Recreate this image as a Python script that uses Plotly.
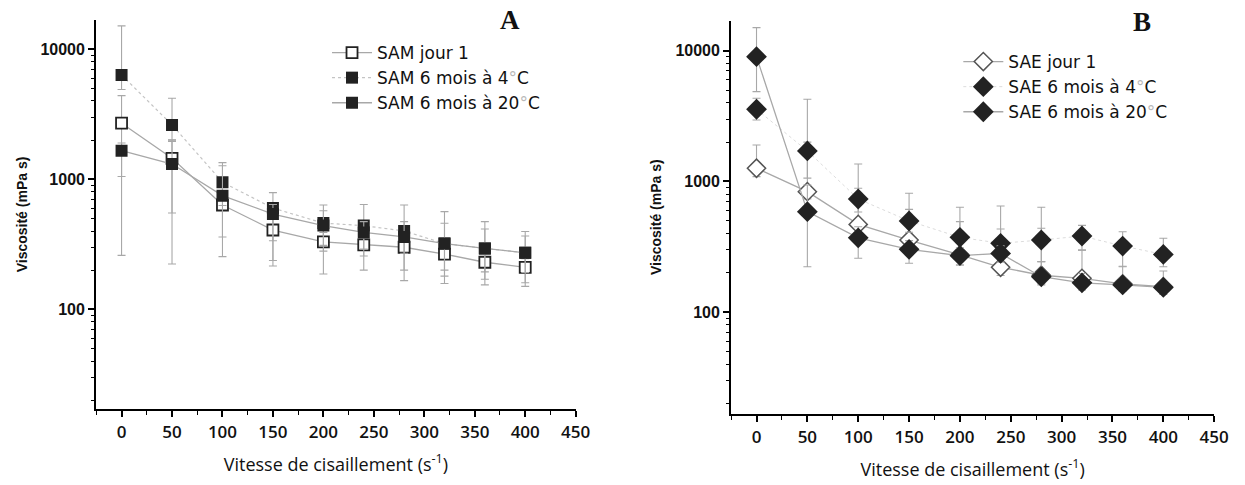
import plotly.graph_objects as go

# ---------------- data ----------------
shear = [0, 50, 100, 150, 200, 240, 280, 320, 360, 400]

# Panel A (SAM)
sam_j1 = [2700, 1450, 634, 407, 330, 313, 300, 266, 230, 210]
sam_j1_plus = [1700, 500, 100, 100, 60, 60, 60, 50, 40, 35]
sam_j1_minus = [1650, 900, 380, 192, 143, 113, 134, 108, 76, 60]

sam_4 = [6340, 2620, 948, 600, 460, 440, 400, 320, 294, 272]
sam_4_plus = [8800, 1580, 395, 190, 174, 200, 234, 244, 178, 124]
sam_4_minus = [1440, 620, 320, 263, 150, 150, 130, 120, 100, 80]

sam_20 = [1660, 1310, 748, 540, 440, 390, 360, 320, 294, 272]
sam_20_plus = [240, 700, 522, 100, 133, 82, 112, 139, 121, 94]
sam_20_minus = [1400, 1087, 388, 303, 160, 133, 160, 140, 124, 112]

# Panel B (SAE)
sae_j1 = [1262, 836, 470, 357, 275, 221, 192, 182, 165, 157]
sae_j1_plus = [640, 3414, 890, 456, 360, 429, 443, 117, 60, 50]
sae_j1_minus = [172, 100, 80, 60, 45, 30, 25, 25, 20, 20]

sae_4 = [3565, 1711, 735, 499, 374, 337, 357, 383, 321, 277]
sae_4_plus = [765, 289, 153, 113, 119, 96, 82, 79, 92, 91]
sae_4_minus = [615, 650, 150, 90, 70, 60, 113, 84, 98, 54]

sae_20 = [9000, 588, 371, 303, 271, 282, 187, 168, 162, 155]
sae_20_plus = [6000, 352, 80, 50, 40, 40, 57, 30, 20, 15]
sae_20_minus = [4140, 365, 112, 66, 41, 40, 25, 20, 15, 12]

y_ticks = [100, 1000, 10000]
y_ticktext = ["100", "1000", "10000"]
deg = "<span style='color:#b8b8b8'>°</span>"

# ---------------- styles ----------------
LINE = "#a8a8a8"
ERR = "#a8a8a8"
DARK = "#222222"
W, H = 1245, 485


def err(plus, minus):
    return dict(type="data", symmetric=False, array=plus, arrayminus=minus,
                color=ERR, thickness=1.1, width=4)


fig = go.Figure()

# Panel A traces
fig.add_trace(go.Scatter(
    x=shear, y=sam_j1, name="SAM jour 1", mode="lines+markers",
    line=dict(color=LINE, width=1.3),
    marker=dict(symbol="square", size=11, color="white", line=dict(color=DARK, width=1.8)),
    error_y=err(sam_j1_plus, sam_j1_minus), xaxis="x", yaxis="y",
    legend="legend", legendgroup="a1"))
fig.add_trace(go.Scatter(
    x=shear, y=sam_4, name="SAM 6 mois à 4" + deg + "C", mode="lines+markers",
    line=dict(color="#c4c4c4", width=1.2, dash="dot"),
    marker=dict(symbol="square", size=12, color=DARK, line=dict(color=DARK, width=0)),
    error_y=err(sam_4_plus, sam_4_minus), xaxis="x", yaxis="y",
    legend="legend", legendgroup="a2"))
fig.add_trace(go.Scatter(
    x=shear, y=sam_20, name="SAM 6 mois à 20" + deg + "C", mode="lines+markers",
    line=dict(color=LINE, width=1.3),
    marker=dict(symbol="square", size=12, color=DARK, line=dict(color=DARK, width=0)),
    error_y=err(sam_20_plus, sam_20_minus), xaxis="x", yaxis="y",
    legend="legend", legendgroup="a3"))

# Panel B traces
fig.add_trace(go.Scatter(
    x=shear, y=sae_j1, name="SAE jour 1", mode="lines+markers",
    line=dict(color=LINE, width=1.3),
    marker=dict(symbol="diamond", size=14, color="white", line=dict(color="#555555", width=1.5)),
    error_y=err(sae_j1_plus, sae_j1_minus), xaxis="x2", yaxis="y2",
    legend="legend2", legendgroup="b1"))
fig.add_trace(go.Scatter(
    x=shear, y=sae_4, name="SAE 6 mois à 4" + deg + "C", mode="lines+markers",
    line=dict(color="#dcdcdc", width=1, dash="dot"),
    marker=dict(symbol="diamond", size=16, color=DARK, line=dict(color=DARK, width=0)),
    error_y=err(sae_4_plus, sae_4_minus), xaxis="x2", yaxis="y2",
    legend="legend2", legendgroup="b2"))
fig.add_trace(go.Scatter(
    x=shear, y=sae_20, name="SAE 6 mois à 20" + deg + "C", mode="lines+markers",
    line=dict(color=LINE, width=1.3),
    marker=dict(symbol="diamond", size=16, color=DARK, line=dict(color=DARK, width=0)),
    error_y=err(sae_20_plus, sae_20_minus), xaxis="x2", yaxis="y2",
    legend="legend2", legendgroup="b3"))

minor_y = [m * 10 ** e for e in (1, 2, 3, 4) for m in range(2, 10) if m * 10 ** e < 17000]

common_x = dict(
    showline=True, linecolor="black", linewidth=2, mirror=False,
    ticks="outside", ticklen=6, tickwidth=1.5, tickcolor="black",
    tick0=0, dtick=50, showgrid=False, zeroline=False,
    minor=dict(ticks="outside", ticklen=4, tickwidth=1.2, tickcolor="black", dtick=25, tick0=0, showgrid=False),
    tickfont=dict(family="Open Sans", size=17, color="#111", weight=600),
    ticklabelstandoff=1,
    title=dict(text="Vitesse de cisaillement (s<sup>-1</sup>)",
               font=dict(family="Open Sans", size=18, color="#111"), standoff=16),
)
common_y = dict(
    type="log", showline=True, linecolor="black", linewidth=2, mirror=False,
    ticks="outside", ticklen=6, tickwidth=1.5, tickcolor="black",
    tickvals=y_ticks, ticktext=y_ticktext, showgrid=False, zeroline=False,
    minor=dict(ticks="outside", ticklen=3, tickwidth=1.2, tickcolor="black", tickvals=minor_y, showgrid=False),
    tickfont=dict(family="Liberation Sans", size=16, color="#111", weight="bold"),
    title=dict(text="<b>Viscosité (mPa s)</b>",
               font=dict(family="Liberation Sans", size=14, color="#111"), standoff=10),
)

leg_common = dict(xanchor="left", yanchor="top", bgcolor="rgba(0,0,0,0)",
                  font=dict(family="DejaVu Sans", size=17, color="#111"),
                  traceorder="grouped", tracegroupgap=0, itemwidth=40)

fig.update_layout(
    width=W, height=H, margin=dict(l=0, r=0, t=0, b=0),
    paper_bgcolor="white", plot_bgcolor="white",
    showlegend=True,
    xaxis=dict(common_x, domain=[97.3 / W, 582.7 / W], range=[-25.2, 450], anchor="y"),
    yaxis=dict(common_y, domain=[1 - 409 / H, 1 - 20 / H], range=[1.233, 4.225], anchor="x"),
    xaxis2=dict(common_x, domain=[740 / W, 1229 / W], range=[-25, 450], anchor="y2"),
    yaxis2=dict(common_y, domain=[1 - 413.7 / H, 1 - 20.7 / H], range=[1.225, 4.229], anchor="x2"),
    legend=dict(leg_common, x=331 / W, y=1 - 35 / H),
    legend2=dict(leg_common, x=970 / W, y=1 - 44 / H),
    annotations=[
        dict(text="<b>A</b>", x=516 / W, y=1 - 20 / H, xref="paper", yref="paper",
             xanchor="center", yanchor="middle",
             showarrow=False, font=dict(family="Liberation Serif", size=27, color="#111")),
        dict(text="<b>B</b>", x=1156 / W, y=1 - 22 / H, xref="paper", yref="paper",
             xanchor="center", yanchor="middle",
             showarrow=False, font=dict(family="Liberation Serif", size=27, color="#111")),
    ],
)

fig.write_html("out.html")
